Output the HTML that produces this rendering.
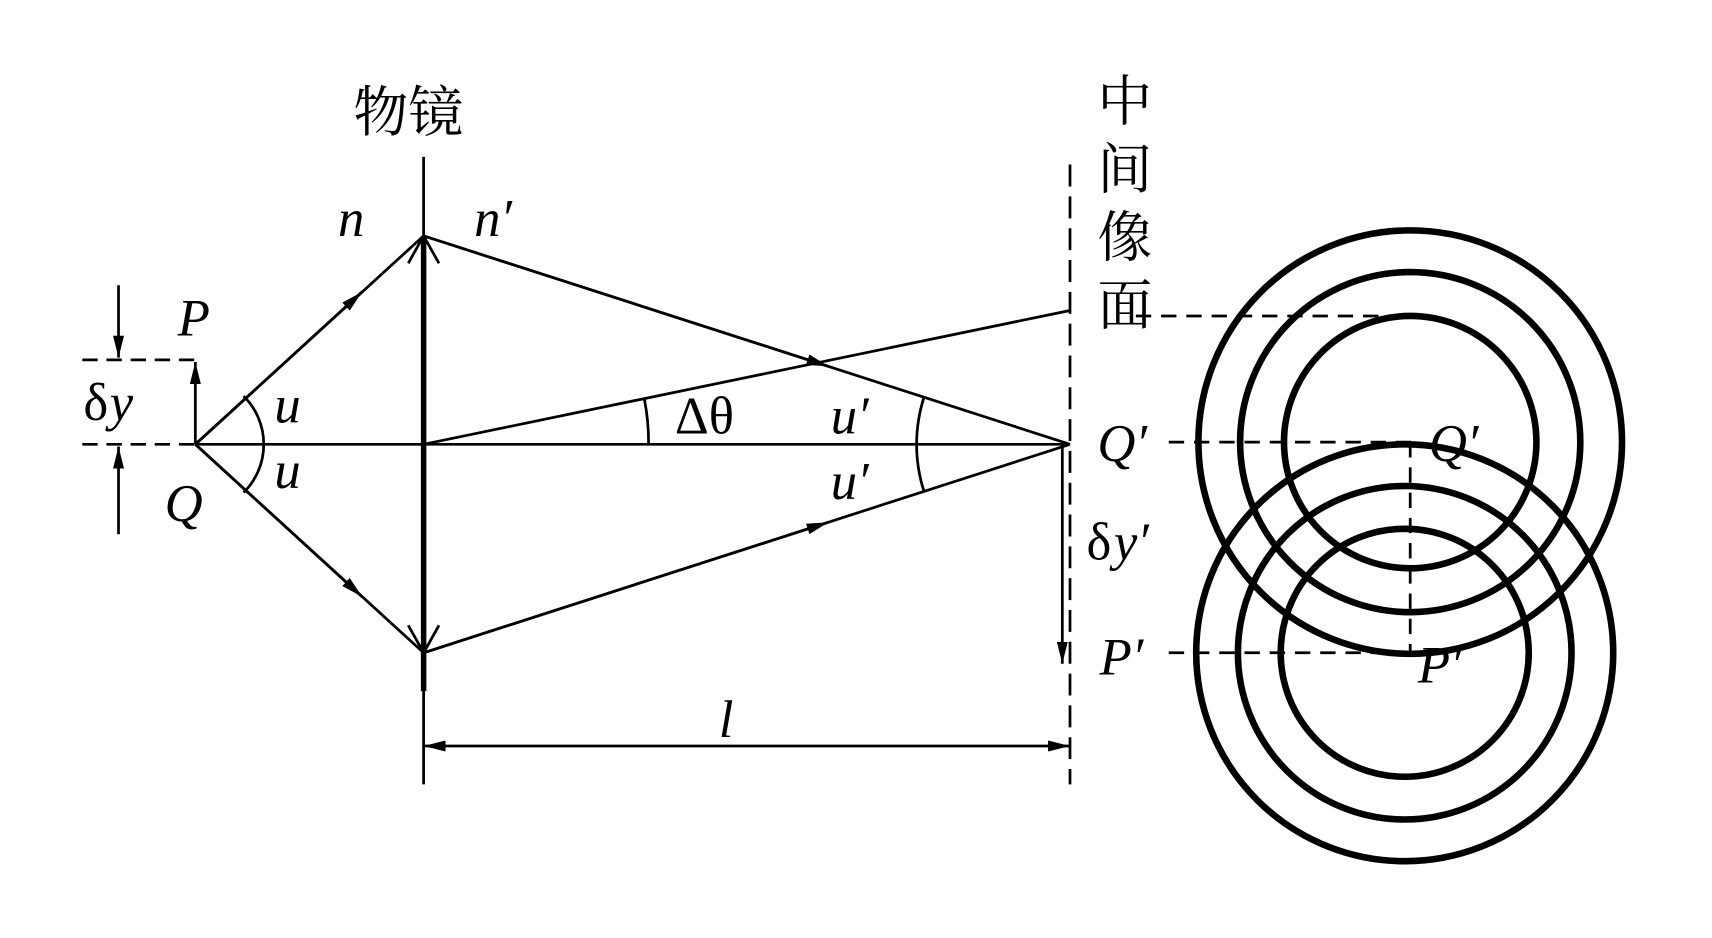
<!DOCTYPE html>
<html><head><meta charset="utf-8"><style>html,body{margin:0;padding:0;background:#fff}svg{display:block}
text{font-family:"Liberation Serif",serif;font-style:italic;font-size:48px;fill:#000}
.cjk{font-family:"Liberation Serif","Noto Serif CJK SC",serif;font-style:normal;font-size:50px}
.up{font-style:normal}</style></head><body>
<svg width="1712" height="938" viewBox="0 0 1560 855" preserveAspectRatio="none" xmlns="http://www.w3.org/2000/svg">
<defs><marker id="a" viewBox="0 0 20 10" refX="20" refY="5" markerWidth="20" markerHeight="10" markerUnits="userSpaceOnUse" orient="auto-start-reverse"><path d="M0,0L20,5L0,10z"/></marker></defs>
<g stroke="#000" fill="none" stroke-width="2.5">
<line x1="386" y1="143" x2="386" y2="715"/>
<line x1="386" y1="215" x2="386" y2="630" stroke-width="5"/>
<polyline points="372,240 386,215 400,240"/>
<polyline points="372,570 386,595 400,570"/>
<line x1="178" y1="405" x2="975" y2="405"/>
<line x1="75" y1="405" x2="178" y2="405" stroke-dasharray="14,8"/>
<line x1="75" y1="328" x2="178" y2="328" stroke-dasharray="14,8"/>
<line x1="178" y1="405" x2="178" y2="330" marker-end="url(#a)"/>
<line x1="108" y1="260" x2="108" y2="326" marker-end="url(#a)"/>
<line x1="108" y1="487" x2="108" y2="407" marker-end="url(#a)"/>
<line x1="178" y1="405" x2="386" y2="215"/>
<line x1="178" y1="405" x2="386" y2="595"/>
<line x1="386" y1="215" x2="975" y2="405"/>
<line x1="386" y1="595" x2="975" y2="405"/>
<line x1="386" y1="405" x2="975" y2="283"/>
<line x1="178" y1="405" x2="330" y2="266" marker-end="url(#a)"/>
<line x1="178" y1="405" x2="330" y2="544" marker-end="url(#a)"/>
<line x1="386" y1="215" x2="755" y2="334" marker-end="url(#a)"/>
<line x1="386" y1="595" x2="755" y2="476" marker-end="url(#a)"/>
<line x1="975" y1="150" x2="975" y2="715" stroke-dasharray="20,9"/>
<line x1="968" y1="405" x2="968" y2="605" marker-end="url(#a)"/>
<line x1="386" y1="680" x2="975" y2="680" marker-start="url(#a)" marker-end="url(#a)"/>
<path d="M222,361 A62 62 0 0 1 222,449"/>
<path d="M587,363 A205 205 0 0 1 591,405"/>
<path d="M842,362 A140 140 0 0 0 842,448"/>
<line x1="1035" y1="288" x2="1280" y2="288" stroke-dasharray="14,9"/>
<line x1="1065" y1="403" x2="1290" y2="403" stroke-dasharray="14,9"/>
<line x1="1065" y1="595" x2="1290" y2="595" stroke-dasharray="14,9"/>
<line x1="1285" y1="403" x2="1285" y2="595" stroke-dasharray="14,9"/>
<g stroke-width="6">
<circle cx="1285" cy="403" r="115"/><circle cx="1285" cy="403" r="155"/><circle cx="1285" cy="403" r="193"/>
<circle cx="1280" cy="595" r="113"/><circle cx="1280" cy="595" r="152"/><circle cx="1280" cy="595" r="190"/>
</g></g>
<text class="cjk" x="322" y="120">物镜</text>
<text class="cjk" x="1000" y="110">中</text><text class="cjk" x="1000" y="172">间</text><text class="cjk" x="1000" y="234">像</text><text class="cjk" x="1000" y="296">面</text>
<text x="308" y="215">n</text><text x="432" y="215">n′</text>
<text x="162" y="306">P</text><text class="up" x="76" y="383">δ</text><text x="100" y="383">y</text>
<text x="250" y="385">u</text><text x="250" y="445">u</text><text x="150" y="475">Q</text>
<text class="up" x="615" y="395">Δθ</text><text x="757" y="395">u′</text><text x="757" y="455">u′</text>
<text x="1000" y="420">Q′</text><text class="up" x="990" y="510">δ</text><text x="1015" y="510">y′</text><text x="1002" y="615">P′</text>
<text x="1302" y="420">Q′</text><text x="1292" y="622">P′</text>
<text x="655" y="672">l</text>
</svg></body></html>
